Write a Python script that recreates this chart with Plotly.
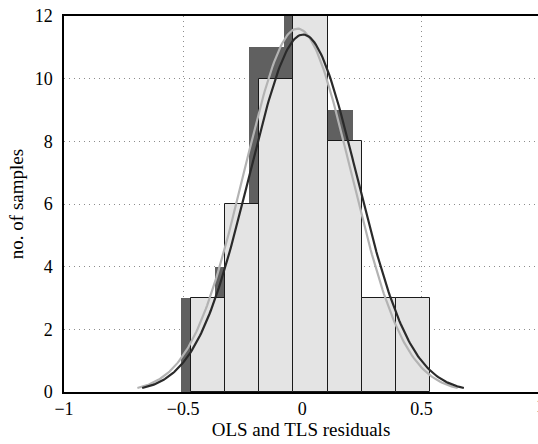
import numpy as np
import plotly.graph_objects as go

# Residual histograms: left edge of the first bin, bin width, counts per bin
ols_edge0, ols_width = -0.511, 0.1447
ols_counts = [3, 4, 11, 12, 9, 3, 3]
tls_edge0, tls_width = -0.466, 0.143
tls_counts = [3, 6, 10, 12, 8, 3, 3]

# Normal fits (mean, standard deviation) of each set of residuals
ols_mu, ols_sigma = -0.02, 0.224
tls_mu, tls_sigma = 0.003, 0.225

x_ticks = [-1, -0.5, 0, 0.5, 1]
y_ticks = [0, 2, 4, 6, 8, 10, 12]

x_label = "OLS and TLS residuals"
y_label = "no. of samples"

FONT = "Liberation Serif, Times New Roman, serif"


def bin_centers(edge0, width, counts):
    return [edge0 + width * (i + 0.5) for i in range(len(counts))]


def normal_curve(mu, sigma, counts, width, n=240):
    xs = np.linspace(mu - 3 * sigma, mu + 3 * sigma, n)
    scale = sum(counts) * width
    ys = scale * np.exp(-0.5 * ((xs - mu) / sigma) ** 2) / (sigma * np.sqrt(2 * np.pi))
    return xs, ys


fig = go.Figure()

fig.add_trace(go.Bar(
    x=bin_centers(ols_edge0, ols_width, ols_counts), y=ols_counts,
    width=ols_width, name="OLS",
    marker=dict(color="#606060", line=dict(color="#606060", width=0)),
))
fig.add_trace(go.Bar(
    x=bin_centers(tls_edge0, tls_width, tls_counts), y=tls_counts,
    width=tls_width, name="TLS",
    marker=dict(color="#e4e4e4", line=dict(color="#1a1a1a", width=1)),
))

ox, oy = normal_curve(ols_mu, ols_sigma, ols_counts, ols_width)
fig.add_trace(go.Scatter(x=ox, y=oy, mode="lines", name="OLS fit",
                         line=dict(color="#b3b3b3", width=2.2)))
tx, ty = normal_curve(tls_mu, tls_sigma, tls_counts, tls_width)
fig.add_trace(go.Scatter(x=tx, y=ty, mode="lines", name="TLS fit",
                         line=dict(color="#2a2a2a", width=2.2)))

W, H = 538, 444
L, R, T, B = 64, 0, 16, 52
x_lo = -1.0
px_per_unit = 238.3
x_hi = x_lo + (W - L - R) / px_per_unit

fig.update_layout(
    width=W, height=H,
    margin=dict(l=L, r=R, t=T, b=B),
    paper_bgcolor="white", plot_bgcolor="white",
    barmode="overlay", bargap=0,
    showlegend=False,
    font=dict(family=FONT, size=18, color="black"),
)

fig.update_xaxes(
    range=[x_lo, x_hi], tickvals=x_ticks,
    showgrid=True, gridcolor="#8c8c8c", gridwidth=1, griddash="1px,4px",
    zeroline=False, showline=True, linecolor="black", linewidth=1.5,
    mirror=True, ticks="",
    title=dict(text=x_label, font=dict(family=FONT, size=19), standoff=4),
    tickfont=dict(family=FONT, size=18),
)
fig.update_yaxes(
    range=[0, 12], tickvals=y_ticks,
    showgrid=True, gridcolor="#8c8c8c", gridwidth=1, griddash="1px,4px",
    zeroline=False, showline=True, linecolor="black", linewidth=1.5,
    ticks="", ticklabelstandoff=6,
    title=dict(text=y_label, font=dict(family=FONT, size=19), standoff=6),
    tickfont=dict(family=FONT, size=18),
)

# the last tick label sits just past the right edge of the frame
fig.add_annotation(
    x=(1 - x_lo) / (x_hi - x_lo), y=0, xref="paper", yref="paper",
    xanchor="center", yanchor="top", yshift=-2, text="1", showarrow=False,
    font=dict(family=FONT, size=18, color="black"),
)

fig.write_html("out.html")
